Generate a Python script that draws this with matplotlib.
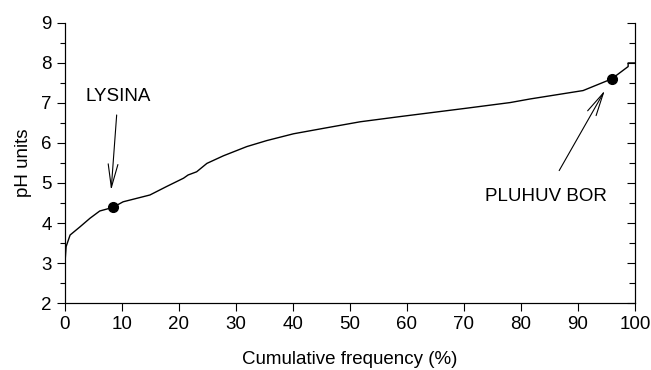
import matplotlib
matplotlib.use("Agg")
import matplotlib.pyplot as plt
import numpy as np

plt.rcParams['font.family'] = ['Liberation Sans', 'DejaVu Sans']

# cumulative frequency curve
freq = [0, 0.2, 0.9, 2.6, 4.4, 6.1, 8.4, 10.2, 14.9, 17.8, 20.8, 21.6, 23.1,
        24.9, 27.8, 31.9, 35.4, 40.1, 45.9, 51.8, 58.8, 70.5, 78.1, 81.6,
        90.9, 95.9, 98.8, 98.8, 100]
ph = [3.0, 3.41, 3.7, 3.9, 4.12, 4.3, 4.39, 4.53, 4.7, 4.91, 5.12, 5.2, 5.28,
      5.49, 5.68, 5.91, 6.06, 6.23, 6.38, 6.53, 6.66, 6.87, 7.01, 7.1,
      7.31, 7.6, 7.91, 8.0, 8.0]

# highlighted sites
sites = ['LYSINA', 'PLUHUV BOR']
site_freq = [8.4, 95.9]
site_ph = [4.39, 7.6]

fig = plt.figure(figsize=(6.51, 3.70), dpi=100)
ax = fig.add_axes([0.0998, 0.181, 0.8756, 0.757])

ax.plot(freq, ph, color='black', lw=1.0)
ax.plot(site_freq, site_ph, 'o', color='black', markersize=7)

ax.set_xlim(0, 100)
ax.set_ylim(2, 9)
ax.set_xticks(np.arange(0, 101, 10))
ax.set_yticks(np.arange(2, 10, 1))
ax.set_yticks(np.arange(2, 9.01, 0.5), minor=True)
ax.tick_params(axis='both', labelsize=13.5, direction='out', length=5.5, width=0.8, pad=4)
ax.tick_params(axis='y', which='minor', direction='out', length=3.5, width=0.8)
ax.spines['top'].set_visible(False)
for s in ['left', 'bottom', 'right']:
    ax.spines[s].set_linewidth(0.8)

# right axis with inward ticks
ax2 = ax.twinx()
ax2.set_ylim(2, 9)
ax2.set_yticks(np.arange(2, 10, 1))
ax2.set_yticks(np.arange(2, 9.01, 0.5), minor=True)
ax2.tick_params(axis='y', which='major', direction='in', length=6, width=0.8, labelright=False)
ax2.tick_params(axis='y', which='minor', direction='in', length=4, width=0.8)
ax2.spines['top'].set_visible(False)
ax2.spines['right'].set_linewidth(0.8)

ax.set_xlabel('Cumulative frequency (%)', fontsize=13.5, labelpad=13)
ax.set_ylabel('pH units', fontsize=13.5, labelpad=7)

arrow = dict(arrowstyle='->, head_length=1.2, head_width=0.25', color='black',
             lw=0.8, shrinkA=0, shrinkB=0, mutation_scale=14)
ax.annotate('', xy=(8.1, 4.82), xytext=(9.07, 6.7), arrowprops=arrow)
ax.text(9.3, 7.15, sites[0], fontsize=13.5, ha='center', va='center')
ax.annotate('', xy=(94.7, 7.31), xytext=(86.7, 5.31), arrowprops=arrow)
ax.text(84.4, 4.66, sites[1], fontsize=13.5, ha='center', va='center')

fig.savefig('out.png', dpi=100)
